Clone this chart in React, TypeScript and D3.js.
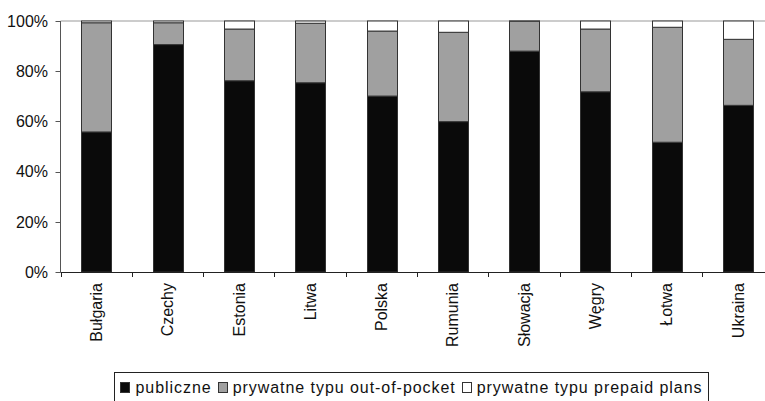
import React, { useEffect, useRef } from "react";
import * as d3 from "d3";

const categories = ["Bułgaria", "Czechy", "Estonia", "Litwa", "Polska", "Rumunia", "Słowacja", "Węgry", "Łotwa", "Ukraina"];
const publiczne = [55.8, 90.6, 76.2, 75.4, 70.1, 59.9, 88.0, 71.8, 51.7, 66.4];
const outOfPocket = [43.5, 8.7, 20.6, 23.7, 25.9, 35.6, 11.9, 25.0, 45.8, 26.3];
const prepaid = [0.7, 0.7, 3.2, 0.9, 4.0, 4.5, 0.1, 3.2, 2.5, 7.3];
const seriesNames = ["publiczne", "prywatne typu out-of-pocket", "prywatne typu prepaid plans"];
const yTicks = [0, 20, 40, 60, 80, 100];

const colors = ["#0a0a0a", "#a0a0a0", "#ffffff"];
const FONT = "'Liberation Sans', Arial, sans-serif";

export default function App() {
  const ref = useRef<SVGSVGElement | null>(null);

  useEffect(() => {
    const svg = d3.select(ref.current);
    svg.selectAll("*").remove();

    const left = 60.5, right = 773.5, top = 21, bottom = 272;
    const x = d3.scaleBand<string>().domain(categories).range([left, right]).paddingInner(0.585).paddingOuter(0.2925);
    const y = d3.scaleLinear().domain([0, 100]).range([bottom, top]);

    const rows = categories.map((c, i) => ({ cat: c, s0: publiczne[i], s1: outOfPocket[i], s2: prepaid[i] }));
    const stack = d3.stack<any>().keys(["s0", "s1", "s2"]);
    const stacked = stack(rows);

    svg.append("line").attr("x1", left).attr("x2", right).attr("y1", y(100)).attr("y2", y(100))
      .attr("stroke", "#999").attr("stroke-width", 1);

    stacked.forEach((layer, li) => {
      svg.append("g").selectAll("rect").data(layer).join("rect")
        .attr("x", (d: any) => Math.round(x(d.data.cat)!) + 0.5)
        .attr("width", Math.round(x.bandwidth()))
        .attr("y", (d: any) => y(d[1]))
        .attr("height", (d: any) => Math.max(0, y(d[0]) - y(d[1])))
        .attr("fill", colors[li])
        .attr("stroke", "#333")
        .attr("stroke-width", 1);
    });

    const ya = svg.append("g");
    ya.append("line").attr("x1", left).attr("x2", left).attr("y1", top).attr("y2", bottom).attr("stroke", "#555");
    yTicks.forEach(t => {
      ya.append("line").attr("x1", left - 5).attr("x2", left).attr("y1", Math.round(y(t)) + 0.5).attr("y2", Math.round(y(t)) + 0.5).attr("stroke", "#555");
      ya.append("text").attr("x", 48).attr("y", y(t)).attr("dy", "0.36em").attr("text-anchor", "end")
        .attr("font-family", FONT).attr("font-size", 16).attr("fill", "#111").text(t + "%");
    });

    const xa = svg.append("g");
    xa.append("line").attr("x1", left).attr("x2", right).attr("y1", bottom + 0.5).attr("y2", bottom + 0.5).attr("stroke", "#222");
    const step = x.step();
    d3.range(categories.length + 1).forEach(i => {
      const xx = Math.round(left + i * step) + 0.5;
      xa.append("line").attr("x1", xx).attr("x2", xx).attr("y1", bottom).attr("y2", bottom + 5).attr("stroke", "#222");
    });
    categories.forEach(c => {
      const cx = x(c)! + x.bandwidth() / 2;
      xa.append("text").attr("transform", `translate(${cx},283) rotate(-90)`)
        .attr("text-anchor", "end").attr("dy", "0.36em")
        .attr("font-family", FONT).attr("font-size", 16).attr("fill", "#111").text(c);
    });

    const lg = svg.append("g");
    const box = lg.append("rect").attr("fill", "#fff").attr("stroke", "#222");
    let cur = 0;
    const items: { sx: number; tx: number }[] = [];
    const texts: any[] = [];
    seriesNames.forEach((n, i) => {
      const t = lg.append("text").attr("font-family", FONT).attr("font-size", 16).attr("letter-spacing", 0.95)
        .attr("fill", "#111").attr("y", 393).text(n);
      const w = (t.node() as SVGTextElement).getComputedTextLength();
      items.push({ sx: cur, tx: cur + 15 });
      texts.push({ t, w, i });
      cur += 15 + w + 6;
    });
    const totalW = cur - 6;
    const boxW = totalW + 12;
    const boxX = 411.5 - boxW / 2;
    box.attr("x", Math.round(boxX) + 0.5).attr("y", 372.5).attr("width", Math.round(boxW)).attr("height", 40);
    texts.forEach(({ t, i }) => {
      const sx = boxX + 6 + items[i].sx;
      lg.append("rect").attr("x", Math.round(sx) + 0.5).attr("y", 382.5).attr("width", 9).attr("height", 10)
        .attr("fill", colors[i]).attr("stroke", "#333");
      t.attr("x", boxX + 6 + items[i].tx);
    });
  }, []);

  return (
    <svg ref={ref} width={765} height={401} style={{ position: "absolute", left: 0, top: 0, background: "#fff" }} />
  );
}
